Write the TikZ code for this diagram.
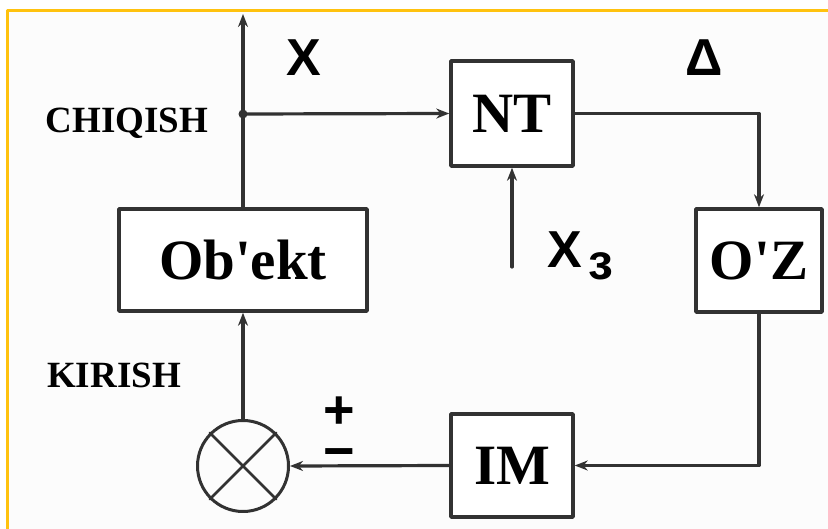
\documentclass[tikz,border=0pt]{standalone}
\usepackage{fontspec}
\setmainfont{Liberation Serif}
\setsansfont{Liberation Sans}
\usetikzlibrary{arrows.meta}
\definecolor{ramka}{RGB}{255,194,14}
\definecolor{chiziq}{RGB}{50,50,50}
\tikzset{
	blok/.style={draw=chiziq, line width=3.5pt, inner sep=0pt, fill=white,
		font=\bfseries\fontsize{57}{60}\selectfont},
	yozuv/.style={font=\bfseries\fontsize{37}{40}\selectfont},
	belgi/.style={font=\sffamily\bfseries\fontsize{52}{56}\selectfont},
	oqim/.style={->, draw=chiziq, line width=3.2pt}
}

\begin{document}
\begin{tikzpicture}[x=1pt, y=-1pt, >={Stealth[length=13pt,width=10pt]}, line join=round, line cap=round]
	\useasboundingbox (0,0) rectangle (828,529);
	\fill[black!1] (7,11) rectangle (828,529);
	\draw[ramka, line width=3pt, line cap=butt] (7,529) -- (7,11) -- (828,11);
	% bloklar
	\node[blok, minimum width=248pt, minimum height=102pt] (ob) at (243,260) {Ob\textquotesingle ekt};
	\node[blok, minimum width=122pt, minimum height=105pt] (nt) at (512,113.5) {NT};
	\node[blok, minimum width=126pt, minimum height=103pt] (oz) at (759,260.5) {O\textquotesingle Z};
	\node[blok, minimum width=122pt, minimum height=103pt] (im) at (512,465.5) {IM};
	\node[circle, draw=chiziq, line width=3pt, minimum size=91pt, inner sep=0pt] (sum) at (243,466) {};
	\draw[chiziq, line width=2.5pt] (sum.north west) -- (sum.south east) (sum.north east) -- (sum.south west);
	\coordinate (J) at (243,114);
	\coordinate (T) at (243,14);
	\coordinate (Z) at (512,267);
	% ulanishlar
	\draw[oqim] (ob.north) -- (T);
	\draw[oqim] (J) -- (nt.west);
	\fill[chiziq] (J) circle (4.5pt);
	\draw[oqim] (nt.east) -| (oz.north);
	\draw[oqim] (oz.south) |- (im.east);
	\draw[oqim] (im.west) -- (sum.east);
	\draw[oqim] (sum.north) -- (ob.south);
	\draw[oqim] (Z) -- (nt.south);
	% yozuvlar
	\node[yozuv] (chiq) at (127,123) {CHIQISH};
	\node[yozuv] (kir) at (114,375) {KIRISH};
	\node[belgi] (x) at (304,58) {X};
	\node[belgi] (delta) at (704,58) {Δ};
	\node[belgi] (xz) at (565,250) {X};
	\node[font=\sffamily\bfseries\fontsize{50}{50}\selectfont] (zz) at (601,266) {з};
	\node[font=\sffamily\bfseries\fontsize{54}{54}\selectfont, inner sep=0pt] (pm) at (339,433) {\shortstack{+\\[17pt]−}};
\end{tikzpicture}
\end{document}
